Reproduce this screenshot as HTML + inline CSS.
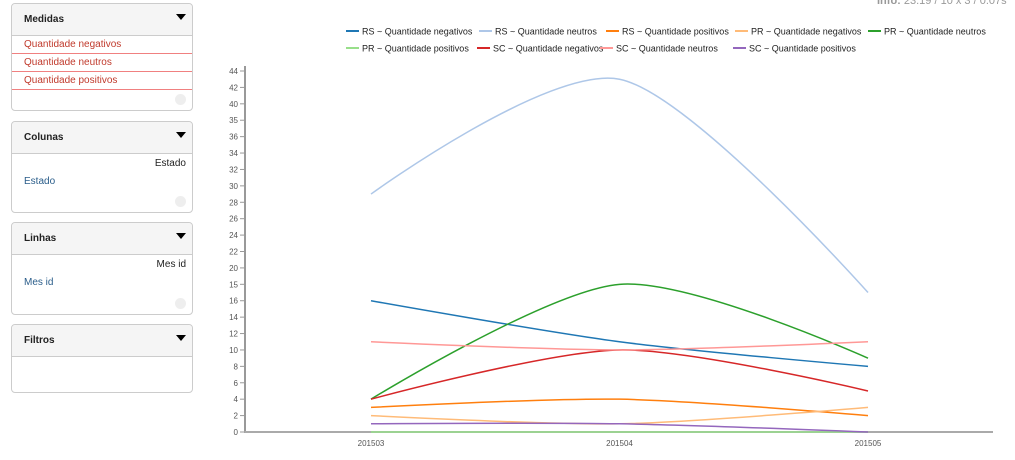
<!DOCTYPE html>
<html><head><meta charset="utf-8"><style>
body{margin:0;width:1015px;height:460px;background:#fff;font-family:"Liberation Sans",sans-serif;overflow:hidden;position:relative}
.panel{position:absolute;left:11px;width:180px;border:1px solid #ccc;border-radius:4px;background:#fff}
.hd{height:31px;background:#f5f5f5;border-bottom:1px solid #ccc;font-weight:bold;font-size:10px;line-height:31px;padding-left:12px;color:#222;position:relative;border-radius:4px 4px 0 0}
.hd:after{content:"";position:absolute;right:6px;top:10px;border-left:5px solid transparent;border-right:5px solid transparent;border-top:6px solid #000}
.m{font-size:10px;color:#c0392b;padding-left:12px;height:17px;line-height:17px;border-bottom:1px solid #f08080}
.x{position:absolute;right:6px;bottom:5px;width:11px;height:11px;border-radius:50%;background:#eee}
.r{font-size:10px;text-align:right;padding-right:6px;margin-top:4px;color:#222}
.l{font-size:10px;color:#2a5d8a;padding-left:12px;margin-top:7px}
svg text{font-family:"Liberation Sans",sans-serif}
</style></head><body>
<div class="panel" style="top:3px;height:106px">
<div class="hd">Medidas</div>
<div class="m">Quantidade negativos</div>
<div class="m">Quantidade neutros</div>
<div class="m">Quantidade positivos</div>
<div class="x"></div></div>
<div class="panel" style="top:121px;height:90px">
<div class="hd">Colunas</div>
<div class="r">Estado</div>
<div class="l">Estado</div>
<div class="x"></div></div>
<div class="panel" style="top:222px;height:91px">
<div class="hd">Linhas</div>
<div class="r">Mes id</div>
<div class="l">Mes id</div>
<div class="x"></div></div>
<div class="panel" style="top:324px;height:67px">
<div class="hd">Filtros</div></div>
<div style="position:absolute;left:877px;top:-5px;font-size:11px;color:#999"><b>Info:</b> 23.19 / 10 x 3 / 0.07s</div>
<svg id="c" width="1015" height="460" style="position:absolute;left:0;top:0"></svg>
<script>
const categories=["201503","201504","201505"];
const seriesNames=["RS ~ Quantidade negativos","RS ~ Quantidade neutros","RS ~ Quantidade positivos","PR ~ Quantidade negativos","PR ~ Quantidade neutros","PR ~ Quantidade positivos","SC ~ Quantidade negativos","SC ~ Quantidade neutros","SC ~ Quantidade positivos"];
const rsNeg=[16,11,8];
const rsNeu=[29,43,17];
const rsPos=[3,4,2];
const prNeg=[2,1,3];
const prNeu=[4,18,9];
const prPos=[0,0,0];
const scNeg=[4,10,5];
const scNeu=[11,10,11];
const scPos=[1,1,0];
const yTicks=[0,2,4,6,8,10,12,14,16,18,20,22,24,26,28,30,32,34,36,38,40,42,44];
const yTickLabels=["0","2","4","6","8","10","12","14","16","15","20","22","24","26","28","30","32","34","36","35","40","42","44"];
const series=[rsNeg,rsNeu,rsPos,prNeg,prNeu,prPos,scNeg,scNeu,scPos];
const colors=["#1f77b4","#aec7e8","#ff7f0e","#ffbb78","#2ca02c","#98df8a","#d62728","#ff9896","#9467bd"];
const NS="http://www.w3.org/2000/svg",svg=document.getElementById('c');
const y=v=>432-v*(361/44);
const x=i=>371+i*248.5;
function mk(t,a){const e=document.createElementNS(NS,t);for(const k in a)e.setAttribute(k,a[k]);svg.appendChild(e);return e;}
let ax=mk('line',{x1:245,y1:66,x2:245,y2:433,stroke:'#999','stroke-width':2});


let bx=mk('line',{x1:244,y1:432,x2:993,y2:432,stroke:'#aaa','stroke-width':2});


yTicks.forEach((v,i)=>{
 mk('line',{x1:240,x2:245,y1:y(v),y2:y(v),stroke:'#999'});
 const t=mk('text',{x:238,y:y(v)+3,'text-anchor':'end','font-size':8,fill:'#555'});t.textContent=yTickLabels[i];
 
 
});
categories.forEach((c,i)=>{
 const t=mk('text',{x:x(i),y:446,'text-anchor':'middle','font-size':8,fill:'#555'});t.textContent=c;
 
 
});
function path(vals){
 const p=vals.map((v,i)=>[x(i),y(v)]);
 const n=p.length,T=[];
 for(let i=0;i<n;i++){
  if(i==0||i==n-1)T.push([0,0]);
  else T.push([(1-0.7)*(p[i+1][0]-p[i-1][0])/2,(1-0.7)*(p[i+1][1]-p[i-1][1])/2]);
 }
 let d='M'+p[0][0]+','+p[0][1];
 for(let i=0;i<n-1;i++){
  const a=p[i],b=p[i+1],k=0.95;
  const c1=[a[0]+T[i][0]*k,a[1]+T[i][1]*k];
  const c2=[b[0]-T[i+1][0]*k,b[1]-T[i+1][1]*k];
  d+=` C${c1[0]},${c1[1]} ${c2[0]},${c2[1]} ${b[0]},${b[1]}`;
 }
 return d;
}
series.forEach((s,i)=>{
 const e=mk('path',{d:path(s),fill:'none',stroke:colors[i],'stroke-width':1.5});
 
 
});
const legX=[346,479,606,735,868,346,477,600,733];
seriesNames.forEach((n,i)=>{
 const ly=i<5?31:48;
 const g=document.createElementNS(NS,'g');svg.appendChild(g);
 
 
 const l=document.createElementNS(NS,'line');
 [['x1',legX[i]],['x2',legX[i]+13],['y1',ly],['y2',ly],['stroke',colors[i]],['stroke-width',2]].forEach(a=>l.setAttribute(a[0],a[1]));g.appendChild(l);
 const t=document.createElementNS(NS,'text');
 t.setAttribute('x',legX[i]+16);t.setAttribute('y',ly+3.5);t.setAttribute('font-size',9);t.setAttribute('fill','#222');t.textContent=n;g.appendChild(t);
});
</script>
</body></html>
